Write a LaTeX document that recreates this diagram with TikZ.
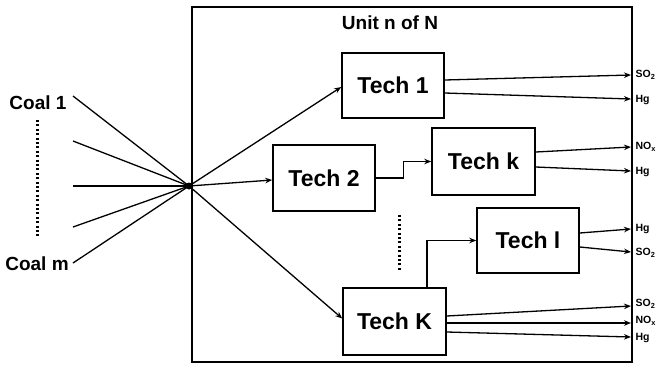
\documentclass[tikz,border=0pt]{standalone}
\usepackage{fontspec}
\setmainfont{Liberation Sans}
\usetikzlibrary{arrows.meta}
\begin{document}
\begin{tikzpicture}[x=1pt,y=-1pt,
  line width=1.3pt,
  techbox/.style={draw,line width=1.5pt,inner sep=0pt,minimum width=102pt,minimum height=66pt,font=\bfseries\fontsize{23}{26}\selectfont},
  biglabel/.style={inner sep=0pt,font=\bfseries\fontsize{19}{22}\selectfont},
  outlabel/.style={anchor=west,inner sep=0pt,font=\bfseries\fontsize{10.5}{12}\selectfont},
  arr/.style={-{Stealth[length=7pt,width=5.5pt]}},
  dotline/.style={line width=3pt,dash pattern=on 2pt off 2.4pt}]
\useasboundingbox (0,0) rectangle (659,365);
% outer unit box
\node[draw,line width=1.5pt,inner sep=0pt,minimum width=440pt,minimum height=355pt] (unit) at (412,184.5) {};
\node[biglabel] (title) at (390,23) {Unit n of N};
% coal inputs
\node[biglabel] (coal1) at (38,103) {Coal 1};
\node[biglabel] (coalm) at (37,264) {Coal m};
\coordinate (c1) at (73,96);
\coordinate (c2) at (73,141);
\coordinate (c3) at (73,186);
\coordinate (c4) at (73,227);
\coordinate (c5) at (73,263);
\coordinate (d1) at (37,120);
\coordinate (d2) at (37,238);
\draw[dotline] (d1) -- (d2);
\node[circle,fill,inner sep=0pt,minimum size=7pt] (hub) at (189,186) {};
\foreach \c in {c1,c2,c3,c4,c5} \draw (\c) -- (hub.center);
% tech boxes
\node[techbox,minimum height=65pt] (t1) at (393,85.5) {Tech 1};
\node[techbox] (t2) at (324,178) {Tech 2};
\node[techbox,minimum width=103pt,minimum height=67pt] (tk) at (483.5,161.5) {Tech k};
\node[techbox,minimum height=65pt] (tl) at (528,240.5) {Tech l};
\node[techbox,minimum width=103pt,minimum height=67pt] (tK) at (394.5,321.5) {Tech K};
% inner dotted
\coordinate (e1) at (399,215);
\coordinate (e2) at (399,272);
\draw[dotline] (e1) -- (e2);
% hub to techs
\draw[arr] (hub.center) -- ([yshift=-1.5pt]t1.west);
\draw[arr] (hub.center) -- ([yshift=-2pt]t2.west);
\draw[arr] (hub.center) -- ([yshift=3pt]tK.west);
% chained techs
\draw[arr] (t2.east) -- ++(28,0) |- (tk.west);
\draw[arr] ([xshift=32.5pt]tK.north) |- (tl.west);
% outputs
\coordinate (o1) at (631,75);
\coordinate (o2) at (631,99);
\coordinate (o3) at (631,147);
\coordinate (o4) at (631,171);
\coordinate (o5) at (631,229);
\coordinate (o6) at (631,252);
\coordinate (o7) at (631,306);
\coordinate (o8) at (631,323);
\coordinate (o9) at (631,337);
\draw[arr] ([yshift=5.5pt]t1.east) -- (o1);
\draw[arr] ([yshift=-7.5pt]t1.east) -- (o2);
\draw[arr] ([yshift=9.5pt]tk.east) -- (o3);
\draw[arr] ([yshift=-5.5pt]tk.east) -- (o4);
\draw[arr] ([yshift=7.5pt]tl.east) -- (o5);
\draw[arr] ([yshift=-6.5pt]tl.east) -- (o6);
\draw[arr] ([yshift=5.5pt]tK.east) -- (o7);
\draw[arr] ([yshift=-1.5pt]tK.east) -- (o8);
\draw[arr] ([yshift=-10.5pt]tK.east) -- (o9);
\node[outlabel] (l1) at (635,75) {SO\textsubscript{2}};
\node[outlabel] (l2) at (635,100) {Hg};
\node[outlabel] (l3) at (635,147) {NO\textsubscript{x}};
\node[outlabel] (l4) at (635,172) {Hg};
\node[outlabel] (l5) at (635,229) {Hg};
\node[outlabel] (l6) at (635,253) {SO\textsubscript{2}};
\node[outlabel] (l7) at (635,304) {SO\textsubscript{2}};
\node[outlabel] (l8) at (635,321) {NO\textsubscript{x}};
\node[outlabel] (l9) at (635,338) {Hg};
\end{tikzpicture}
\end{document}
